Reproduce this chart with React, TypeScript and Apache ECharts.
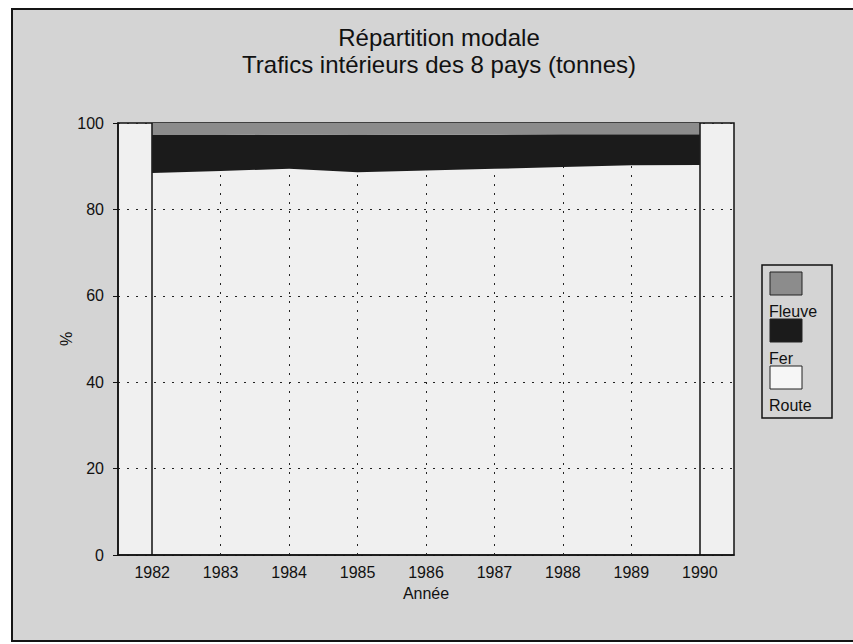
import React, { useEffect, useRef } from "react";
import * as echarts from "echarts";

const years = ["1982", "1983", "1984", "1985", "1986", "1987", "1988", "1989", "1990"];
const route = [88.4, 88.9, 89.4, 88.6, 89.0, 89.4, 89.8, 90.2, 90.3];
const fer = [8.8, 8.3, 7.9, 8.6, 8.3, 7.9, 7.6, 7.2, 7.1];
const fleuve = [2.8, 2.8, 2.7, 2.8, 2.7, 2.7, 2.6, 2.6, 2.6];
const titleLines = ["Répartition modale", "Trafics intérieurs des 8 pays (tonnes)"];
const legendNames = ["Fleuve", "Fer", "Route"];
const xName = "Année";
const yName = "%";

const FONT = "'Liberation Sans', Arial, Helvetica, sans-serif";
const INK = "#111111";
const colors: Record<string, string> = { Fleuve: "#8c8c8c", Fer: "#1b1b1b", Route: "#f6f6f6" };

export default function App() {
  const ref = useRef<HTMLDivElement>(null);

  useEffect(() => {
    document.body.style.margin = "0";
    if (!ref.current) return;
    const chart = echarts.init(ref.current, undefined, { renderer: "svg" });

    const legendEls: any[] = [
      {
        type: "rect",
        shape: { x: 762, y: 265, width: 70, height: 153 },
        style: { fill: "none", stroke: INK, lineWidth: 1.5 },
      },
    ];
    legendNames.forEach((name, i) => {
      const top = 272 + i * 47;
      legendEls.push({
        type: "rect",
        shape: { x: 770, y: top, width: 32, height: 23 },
        style: { fill: colors[name], stroke: "#222", lineWidth: 1 },
      });
      legendEls.push({
        type: "text",
        x: 769,
        y: top + 39,
        style: {
          text: name,
          fill: INK,
          fontSize: 16,
          fontFamily: FONT,
          align: "left",
          verticalAlign: "middle",
        },
      });
    });

    chart.setOption({
      animation: false,
      backgroundColor: "transparent",
      textStyle: { fontFamily: FONT, color: INK },
      title: {
        text: titleLines.join("\n"),
        left: 434,
        top: 19,
        textAlign: "center",
        textStyle: {
          fontSize: 24,
          fontWeight: "normal",
          lineHeight: 27,
          color: INK,
          fontFamily: FONT,
        },
      },
      grid: {
        left: 118,
        top: 123,
        width: 616,
        height: 432,
        show: true,
        backgroundColor: "#f0f0f0",
        borderColor: INK,
        borderWidth: 1.5,
      },
      xAxis: {
        type: "category",
        data: years,
        boundaryGap: true,
        name: xName,
        nameLocation: "middle",
        nameGap: 30,
        nameMoveOverlap: false,
        nameTextStyle: { fontSize: 16, color: INK, fontFamily: FONT },
        axisLine: { lineStyle: { color: INK, width: 1.5 } },
        axisTick: { alignWithLabel: true, length: 6, lineStyle: { color: INK } },
        axisLabel: { fontSize: 16, color: INK, margin: 9, fontFamily: FONT },
        splitLine: { show: false },
      },
      yAxis: {
        type: "value",
        min: 0,
        max: 100,
        interval: 20,
        name: yName,
        nameLocation: "middle",
        nameGap: 44,
        nameMoveOverlap: false,
        nameRotate: 90,
        nameTextStyle: { fontSize: 16, color: INK, fontFamily: FONT },
        axisLine: { show: true, lineStyle: { color: INK, width: 1.5 } },
        axisTick: { show: true, length: 5, lineStyle: { color: INK } },
        axisLabel: { fontSize: 16, color: INK, margin: 14, fontFamily: FONT },
        splitLine: { show: true, lineStyle: { color: "#222", type: [2, 7], width: 1 } },
      },
      graphic: legendEls,
      series: [
        {
          name: "Route",
          type: "line",
          stack: "total",
          data: route,
          symbol: "none",
          lineStyle: { width: 0 },
          areaStyle: { color: "rgba(0,0,0,0)" },
          markLine: {
            silent: true,
            symbol: "none",
            z: 1,
            label: { show: false },
            lineStyle: { color: "#222", type: [2, 7], width: 1 },
            data: years.slice(1, -1).map((y) => ({ xAxis: y })),
          },
        },
        {
          name: "Fer",
          type: "line",
          stack: "total",
          data: fer,
          symbol: "none",
          lineStyle: { width: 0 },
          areaStyle: { color: colors.Fer, opacity: 1 },
        },
        {
          name: "Fleuve",
          type: "line",
          stack: "total",
          data: fleuve,
          symbol: "none",
          lineStyle: { width: 0 },
          areaStyle: { color: colors.Fleuve, opacity: 1 },
          markLine: {
            silent: true,
            symbol: "none",
            z: 6,
            label: { show: false },
            lineStyle: { color: INK, type: "solid", width: 1.5 },
            data: [{ xAxis: years[0] }, { xAxis: years[years.length - 1] }],
          },
        },
      ],
    });

    return () => chart.dispose();
  }, []);

  return (
    <div style={{ position: "relative", width: 853, height: 644, background: "#ffffff", overflow: "hidden" }}>
      <div
        style={{
          position: "absolute",
          left: 11,
          top: 8,
          width: 860,
          height: 634,
          boxSizing: "border-box",
          border: "2.5px solid #151515",
          background: "#d4d4d4",
        }}
      />
      <div ref={ref} style={{ position: "absolute", left: 0, top: 0, width: 853, height: 644 }} />
    </div>
  );
}
